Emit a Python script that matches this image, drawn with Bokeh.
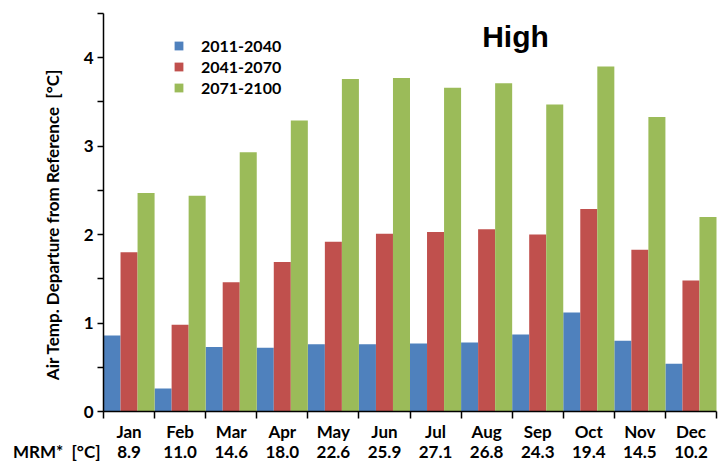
import math
import numpy as np
from bokeh.plotting import figure
from bokeh.core.properties import value
from bokeh.models import (Range1d, FixedTicker, Label, LabelSet, ColumnDataSource,
                          Legend, LegendItem, LinearAxis)
from bokeh.embed import file_html
from bokeh.resources import INLINE

# Monthly air temperature departure from reference (deg C), "High" scenario
months = ["Jan", "Feb", "Mar", "Apr", "May", "Jun",
          "Jul", "Aug", "Sep", "Oct", "Nov", "Dec"]
mrm = ["8.9", "11.0", "14.6", "18.0", "22.6", "25.9",
       "27.1", "26.8", "24.3", "19.4", "14.5", "10.2"]
periods = ["2011-2040", "2041-2070", "2071-2100"]
dep_2011_2040 = [0.86, 0.26, 0.73, 0.72, 0.76, 0.76, 0.77, 0.78, 0.87, 1.12, 0.80, 0.54]
dep_2041_2070 = [1.80, 0.98, 1.46, 1.69, 1.92, 2.01, 2.03, 2.06, 2.00, 2.29, 1.83, 1.48]
dep_2071_2100 = [2.47, 2.44, 2.93, 3.29, 3.76, 3.77, 3.66, 3.71, 3.47, 3.90, 3.33, 2.20]
y_ticks = [0, 1, 2, 3, 4]
y_top = 4.5

colors = ["#4F81BD", "#C0504D", "#9BBB59"]
FONT = "Lato"
NBSP = "\u00a0"

W, H = 722, 463
# plotting area inside the canvas (pixels): left, right, top, bottom
PL, PR, PT, PB = 103, 716, 13, 411
n = len(months)
sx = (PR - PL) / n            # px per month
sy = (PB - PT) / y_top        # px per degree

# the frame covers the whole canvas so labels around the axes stay visible
x_range = Range1d(-PL / sx, n + (W - PR) / sx)
y_range = Range1d(-(H - PB) / sy, y_top + PT / sy)

p = figure(width=W, height=H, x_range=x_range, y_range=y_range,
           output_backend="svg", toolbar_location=None,
           x_axis_location=None, y_axis_location=None,
           min_border=0)
p.grid.visible = False
p.outline_line_color = None
p.background_fill_color = "white"
p.border_fill_color = "white"

# grouped bars, three per month filling the whole month slot
centers = np.arange(n) + 0.5
bw = 1.0 / 3
series = [dep_2011_2040, dep_2041_2070, dep_2071_2100]
renderers = []
for k, vals in enumerate(series):
    r = p.vbar(x=centers + (k - 1) * bw, top=vals, width=bw, bottom=0,
               fill_color=colors[k], line_color=None)
    renderers.append(r)

# x axis: ticks on the month boundaries
xaxis = LinearAxis(fixed_location=0, bounds=(0, n),
                   ticker=FixedTicker(ticks=list(range(n + 1))))
xaxis.major_label_overrides = {i: "" for i in range(n + 1)}
xaxis.major_tick_out = 7
xaxis.major_tick_in = 0
xaxis.minor_tick_line_color = None
xaxis.axis_line_width = 1.5
xaxis.major_tick_line_width = 1.5
xaxis.axis_line_color = "black"
xaxis.major_tick_line_color = "black"
p.add_layout(xaxis, "below")

# y axis
yaxis = LinearAxis(fixed_location=0, bounds=(0, y_top),
                   ticker=FixedTicker(ticks=y_ticks,
                                      minor_ticks=[t + 0.5 for t in y_ticks]))
yaxis.major_tick_out = 6
yaxis.major_tick_in = 0
yaxis.minor_tick_out = 6
yaxis.minor_tick_in = 0
yaxis.axis_line_width = 1.5
yaxis.major_tick_line_width = 1.5
yaxis.minor_tick_line_width = 1.5
yaxis.axis_line_color = "black"
yaxis.major_tick_line_color = "black"
yaxis.minor_tick_line_color = "black"
yaxis.major_label_text_font = FONT
yaxis.major_label_text_font_style = "bold"
yaxis.major_label_text_font_size = "17px"
yaxis.major_label_text_color = "black"
yaxis.major_label_standoff = 4
p.add_layout(yaxis, "left")

legend = Legend(items=[LegendItem(label=periods[k], renderers=[renderers[k]])
                       for k in range(3)],
                location=(173, H - 98), orientation="vertical",
                glyph_width=11, glyph_height=11, label_standoff=17,
                label_text_font=FONT, label_text_font_style="bold",
                label_text_font_size="16px", label_text_color="black",
                label_height=21, spacing=0, padding=0, margin=0,
                border_line_alpha=0, background_fill_alpha=0)
p.add_layout(legend)

# month names and MRM values under the axis
src = ColumnDataSource(dict(x=centers, month=months, mrm=mrm))
y_month = -(431 - PB) / sy
y_mrm = -(451 - PB) / sy
label_style = dict(text_align="center", text_baseline="middle",
                   text_font=value(FONT), text_font_style="bold",
                   text_font_size="17px", text_color="black")
p.add_layout(LabelSet(x="x", y=y_month, text="month", source=src, **label_style))
p.add_layout(LabelSet(x="x", y=y_mrm, text="mrm", source=src, **label_style))
p.add_layout(Label(x=-3 / sx, y=y_mrm, text="MRM*" + NBSP * 2 + "[°C]",
                   text_align="right", text_baseline="middle",
                   text_font=FONT, text_font_style="bold",
                   text_font_size="17px", text_color="black"))

# rotated y-axis title
p.add_layout(Label(x=-(PL - 52) / sx, y=(PB - 224) / sy,
                   text="Air Temp. Departure from Reference" + NBSP * 2 + "[°C]",
                   angle=math.pi / 2, text_align="center", text_baseline="middle",
                   text_font=FONT, text_font_style="bold",
                   text_font_size="17px", text_color="black"))

# scenario title
p.add_layout(Label(x=(515 - PL) / sx, y=(PB - 36) / sy, text="High",
                   text_align="center", text_baseline="middle",
                   text_font="Liberation Sans", text_font_style="bold",
                   text_font_size="30px", text_color="black"))

open("out.html", "w").write(file_html(p, INLINE))
